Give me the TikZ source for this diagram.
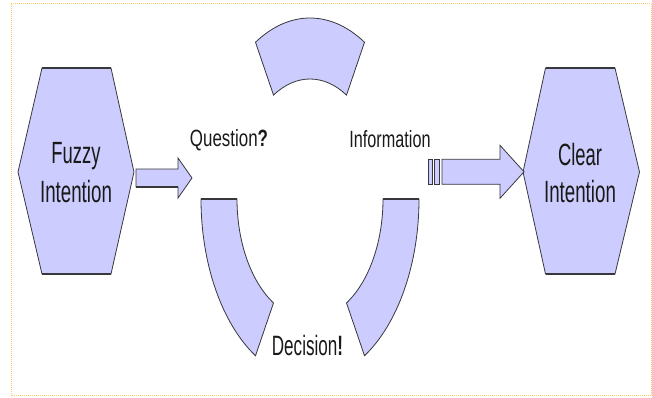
\documentclass[tikz,border=0pt]{standalone}
\usepackage{fontspec}
\usepackage{graphicx}
\setmainfont{Liberation Sans}
\usetikzlibrary{calc}
\definecolor{fillc}{RGB}{204,204,255}
\definecolor{linec}{RGB}{55,55,60}
\definecolor{framec}{RGB}{255,200,95}
\newcommand{\narrow}[2]{\scalebox{#1}[1]{#2}}
\begin{document}
\begin{tikzpicture}[x=1pt,y=1pt,
  blockshape/.style={fill=fillc,draw=linec,line width=0.8pt,line join=miter},
  edgeline/.style={draw=linec,line width=1.6pt},
  lbl/.style={inner sep=0pt,anchor=base,text=black!90}]
\useasboundingbox (0,0) rectangle (652,397);
\draw[framec,dash pattern=on 1pt off 1pt,line width=1pt] (11,1.5) rectangle (651,393.5);

% hexagons
\coordinate (hexL) at (76,225);
\coordinate (hexR) at (581,225);
\draw[blockshape] (18,225) -- (42,329) -- (111,329) -- (134,225) -- (111,123) -- (42,123) -- cycle;
\draw[edgeline] (42,329) -- (111,329) (42,123) -- (111,123);
\draw[blockshape] (523,225) -- (545.5,329) -- (615,329) -- (639.5,225) -- (615,123) -- (545.5,123) -- cycle;
\draw[edgeline] (545.5,329) -- (615,329) (545.5,123) -- (615,123);

\node[lbl,font=\fontsize{30.7}{39}\selectfont] (fuzzy) at (76,234) {\narrow{0.60}{Fuzzy}};
\node[lbl,font=\fontsize{30.7}{39}\selectfont] (intL) at (76,195) {\narrow{0.61}{Intention}};
\node[lbl,font=\fontsize{30.7}{39}\selectfont] (clear) at (580,232) {\narrow{0.60}{Clear}};
\node[lbl,font=\fontsize{30.7}{39}\selectfont] (intR) at (580,195) {\narrow{0.61}{Intention}};

% ring segments
\coordinate (ring) at (310,198);
\draw[blockshape] ($(ring)+(60:109 and 181)$) arc[start angle=60,end angle=120,x radius=109,y radius=181]
  -- ($(ring)+(120:73 and 120)$) arc[start angle=120,end angle=60,x radius=73,y radius=120] -- cycle;
\draw[blockshape] ($(ring)+(180:109 and 181)$) arc[start angle=180,end angle=240,x radius=109,y radius=181]
  -- ($(ring)+(240:73 and 120)$) arc[start angle=240,end angle=180,x radius=73,y radius=120] -- cycle;
\draw[blockshape] ($(ring)+(300:109 and 181)$) arc[start angle=300,end angle=360,x radius=109,y radius=181]
  -- ($(ring)+(360:73 and 120)$) arc[start angle=360,end angle=300,x radius=73,y radius=120] -- cycle;
\draw[edgeline] ($(ring)+(180:109 and 181)$) -- ($(ring)+(180:73 and 120)$);
\draw[edgeline] ($(ring)+(360:109 and 181)$) -- ($(ring)+(360:73 and 120)$);

\node[lbl,font=\fontsize{23.5}{28}\selectfont] (question) at (229,251) {\narrow{0.72}{Question\textbf{?}}};
\node[lbl,font=\fontsize{23.5}{28}\selectfont] (info) at (390,250) {\narrow{0.69}{Information}};
\node[lbl,font=\fontsize{28}{33}\selectfont] (decision) at (307.5,42) {\narrow{0.61}{Decision\textbf{!}}};

% left block arrow
\coordinate (a1s) at (136,219);
\coordinate (a1e) at (192,219);
\draw[blockshape] ($(a1s)+(0,9)$) -- ($(a1e)+(-14,9)$) -- ($(a1e)+(-14,20)$) -- (a1e)
  -- ($(a1e)+(-14,-20)$) -- ($(a1e)+(-14,-9)$) -- ($(a1s)+(0,-9)$) -- cycle;
\draw[linec,line width=1.4pt] ($(a1s)+(0,-9)$) -- ($(a1e)+(-14,-9)$);

% right striped block arrow
\coordinate (a2s) at (442,225.2);
\coordinate (a2e) at (524,225.2);
\draw[blockshape] (428,212.7) rectangle (432,237.7);
\draw[blockshape] (434.5,212.7) rectangle (439,237.7);
\draw[blockshape] ($(a2s)+(0,12.5)$) -- ($(a2e)+(-24,12.5)$) -- ($(a2e)+(-24,26.5)$) -- (a2e)
  -- ($(a2e)+(-24,-26.5)$) -- ($(a2e)+(-24,-12.5)$) -- ($(a2s)+(0,-12.5)$) -- cycle;
\end{tikzpicture}
\end{document}
